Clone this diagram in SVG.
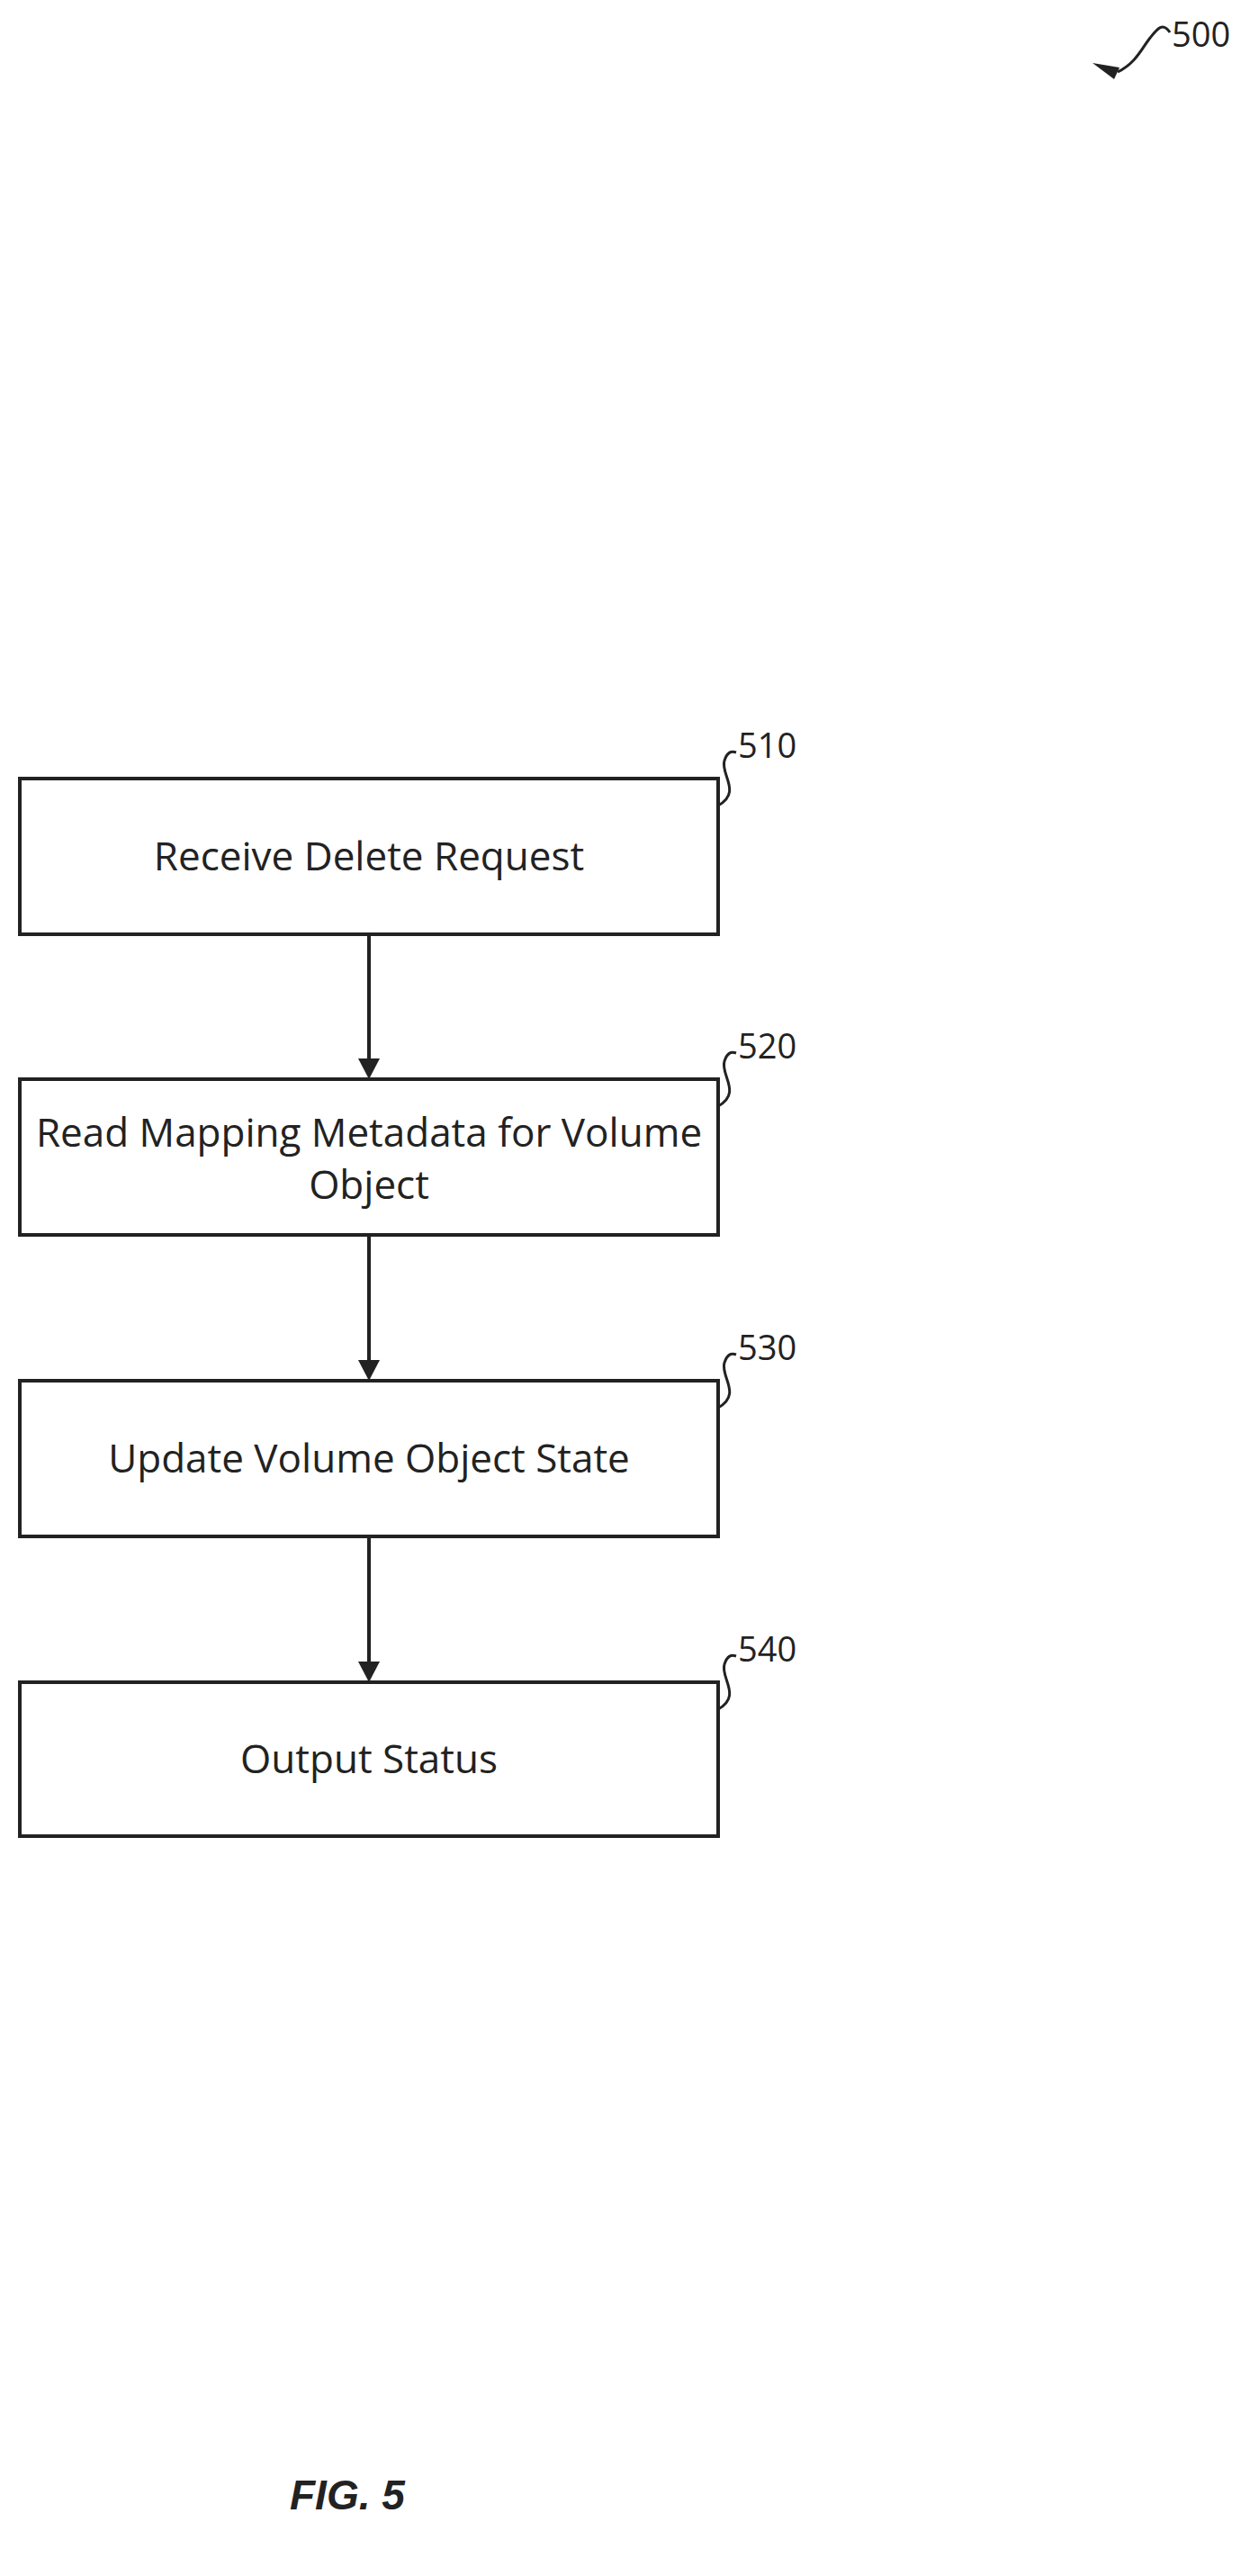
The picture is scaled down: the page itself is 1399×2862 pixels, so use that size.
<svg xmlns="http://www.w3.org/2000/svg" width="1399" height="2862" viewBox="0 0 1399 2862">
<style>
.box{fill:#fff;stroke:#222;stroke-width:4}
.t{font-family:"Open Sans","Liberation Sans",sans-serif;font-size:44px;fill:#222;text-anchor:middle}
.n{font-family:"Open Sans","Liberation Sans",sans-serif;font-size:38px;fill:#222}
.ld{fill:none;stroke:#222;stroke-width:3}
.c{stroke:#222;stroke-width:4;fill:none}
.ah{fill:#222}
</style>
<rect width="1399" height="2862" fill="#fff"/>
<g id="ref500">
<path class="ld" d="M1242,80 C1262,70 1268,55 1278,42 C1286,32 1292,24 1300,36" />
<path d="M1214,70 L1244,75 L1238,88 Z" fill="#222"/>
<text class="n" x="1302" y="52">500</text>
</g>
<g id="n510">
<rect class="box" x="22" y="865" width="776" height="173"/>
<text class="t" x="410" y="967">Receive Delete Request</text>
<path class="ld" d="M798,895 C825,880 800,860 805,845 C808,836 812,834 818,836"/>
<text class="n" x="820" y="842">510</text>
</g>
<g id="n520">
<rect class="box" x="22" y="1199" width="776" height="173"/>
<text class="t" x="410" y="1274">Read Mapping Metadata for Volume</text>
<text class="t" x="410" y="1332">Object</text>
<path class="ld" d="M798,1229 C825,1214 800,1194 805,1179 C808,1170 812,1168 818,1170"/>
<text class="n" x="820" y="1176">520</text>
</g>
<g id="n530">
<rect class="box" x="22" y="1534" width="776" height="173"/>
<text class="t" x="410" y="1636">Update Volume Object State</text>
<path class="ld" d="M798,1564 C825,1549 800,1529 805,1514 C808,1505 812,1503 818,1505"/>
<text class="n" x="820" y="1511">530</text>
</g>
<g id="n540">
<rect class="box" x="22" y="1869" width="776" height="171"/>
<text class="t" x="410" y="1970">Output Status</text>
<path class="ld" d="M798,1899 C825,1884 800,1864 805,1849 C808,1840 812,1838 818,1840"/>
<text class="n" x="820" y="1846">540</text>
</g>
<g id="connectors">
<line class="c" x1="410" y1="1038" x2="410" y2="1180"/>
<polygon class="ah" points="398,1176 422,1176 410,1199"/>
<line class="c" x1="410" y1="1372" x2="410" y2="1515"/>
<polygon class="ah" points="398,1511 422,1511 410,1534"/>
<line class="c" x1="410" y1="1707" x2="410" y2="1850"/>
<polygon class="ah" points="398,1846 422,1846 410,1869"/>
</g>
<text x="322" y="2788" font-family="'Liberation Sans',Arial,sans-serif" font-size="46" font-style="italic" font-weight="bold" fill="#222">FIG. 5</text>
</svg>
